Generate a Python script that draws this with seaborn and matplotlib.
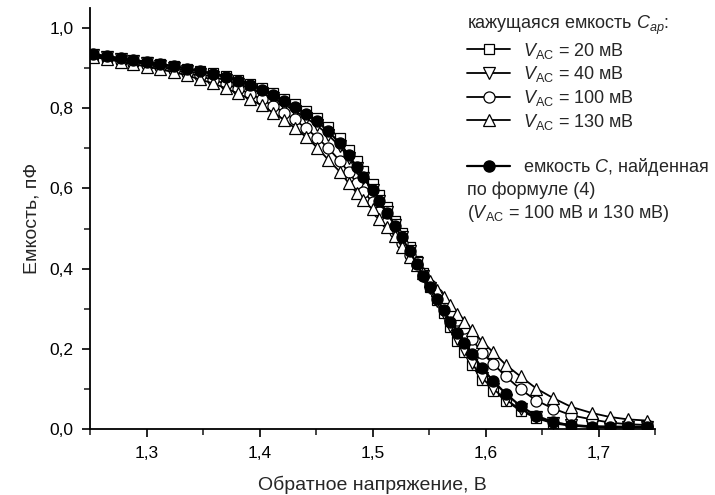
import numpy as np
import pandas as pd
import matplotlib
matplotlib.use("Agg")
import matplotlib.pyplot as plt
import seaborn as sns
from matplotlib.ticker import MultipleLocator, FuncFormatter
from matplotlib.lines import Line2D

sns.set_style("ticks")
plt.rcParams['font.family'] = ['Liberation Sans', 'DejaVu Sans']
plt.rcParams['mathtext.fontset'] = 'custom'
plt.rcParams['mathtext.rm'] = 'Liberation Sans'
plt.rcParams['mathtext.it'] = 'Liberation Sans:italic'

volt = [1.253, 1.265, 1.277, 1.288, 1.300, 1.312, 1.324, 1.336, 1.347, 1.359,
        1.370, 1.381, 1.392, 1.402, 1.412, 1.422, 1.431, 1.441, 1.451, 1.461,
        1.471, 1.479, 1.486, 1.492, 1.500, 1.506, 1.513, 1.520, 1.526, 1.533,
        1.539, 1.545, 1.551, 1.557, 1.563, 1.569, 1.575, 1.581, 1.588, 1.597,
        1.607, 1.618, 1.631, 1.645, 1.660, 1.676, 1.694, 1.710, 1.726, 1.743]

# apparent capacitance C_ap, pF
cap_20 = [.933, .928, .923, .919, .915, .910, .905, .899, .893, .887,
          .880, .871, .861, .850, .839, .824, .810, .793, .775, .752,
          .725, .697, .669, .643, .611, .584, .553, .520, .490, .454,
          .420, .388, .355, .322, .290, .255, .220, .191, .159, .122,
          .096, .070, .046, .027, .014, .008, .005, .004, .004, .004]
cap_40 = [.932, .927, .922, .917, .912, .906, .900, .893, .886, .878,
          .870, .860, .849, .837, .825, .809, .794, .776, .757, .733,
          .705, .677, .650, .626, .595, .569, .540, .508, .479, .445,
          .413, .382, .351, .320, .289, .257, .225, .196, .164, .127,
          .100, .073, .049, .030, .016, .010, .007, .006, .006, .006]
cap_100 = [.931, .925, .919, .914, .909, .902, .896, .888, .880, .871,
           .861, .849, .836, .822, .806, .789, .772, .750, .727, .700,
           .669, .640, .614, .592, .566, .542, .517, .491, .464, .435,
           .410, .385, .360, .336, .312, .291, .271, .252, .224, .190,
           .162, .131, .099, .071, .051, .034, .024, .016, .012, .010]
cap_130 = [.928, .922, .916, .910, .904, .897, .890, .882, .872, .862,
           .850, .837, .822, .807, .789, .771, .751, .729, .702, .671,
           .642, .613, .589, .570, .548, .525, .503, .481, .455, .430,
           .408, .388, .369, .347, .328, .309, .288, .268, .247, .218,
           .191, .160, .131, .101, .077, .055, .040, .030, .024, .021]
# capacitance C from formula (4)
cap_formula = [.935, .930, .925, .920, .916, .910, .905, .898, .892, .885,
               .878, .868, .858, .846, .834, .818, .803, .786, .767, .742,
               .713, .683, .654, .628, .596, .569, .539, .506, .478, .443,
               .412, .382, .354, .325, .297, .268, .240, .214, .187, .152,
               .119, .088, .057, .033, .017, .009, .006, .005, .005, .005]

labels_ac = ['20', '40', '100', '130']
series = [cap_20, cap_40, cap_100, cap_130]
markers = ['s', 'v', 'o', '^']
msizes = [6.5, 8, 8, 8.5]

fig = plt.figure(figsize=(7.15, 4.95), dpi=100)
ax = fig.add_axes([90 / 715, 1 - 429 / 495, 565 / 715, 421 / 495])

handles = []
for lab, vals, mk, ms in zip(labels_ac, series, markers, msizes):
    df = pd.DataFrame({'V': volt, 'C': vals})
    sns.lineplot(data=df, x='V', y='C', ax=ax, color='black', lw=1.3,
                 marker=mk, ms=ms, mfc='white', mec='black', mew=0.9)
    handles.append(Line2D([], [], color='black', lw=1.3, marker=mk, ms=ms,
                          mfc='white', mec='black', mew=0.9))

df = pd.DataFrame({'V': volt, 'C': cap_formula})
sns.lineplot(data=df, x='V', y='C', ax=ax, color='black', lw=1.6,
             marker='o', ms=8, mfc='black', mec='black', mew=0.9)
h_black = Line2D([], [], color='black', lw=1.6, marker='o', ms=8,
                 mfc='black', mec='black')

ax.set_xlim(1.25, 1.75)
ax.set_ylim(0, 1.05)
ax.xaxis.set_major_locator(MultipleLocator(0.1))
ax.xaxis.set_minor_locator(MultipleLocator(0.05))
ax.yaxis.set_major_locator(MultipleLocator(0.2))
ax.yaxis.set_minor_locator(MultipleLocator(0.1))
fmt = FuncFormatter(lambda v, p: f"{v:.1f}".replace('.', ','))
ax.xaxis.set_major_formatter(fmt)
ax.yaxis.set_major_formatter(fmt)
ax.tick_params(which='major', direction='out', length=6, width=1.2,
               labelsize=12.5, colors='black', pad=6)
ax.tick_params(which='minor', direction='out', length=4, width=1.2)
for s in ['top', 'right']:
    ax.spines[s].set_visible(False)
for s in ['left', 'bottom']:
    ax.spines[s].set_linewidth(1.3)
    ax.spines[s].set_color('black')

ax.set_xlabel('Обратное напряжение, В', fontsize=14, labelpad=11)
ax.set_ylabel('Емкость, пФ', fontsize=14, labelpad=6)

blank = Line2D([], [], color='none')
leg_labels = [rf'$V_{{\mathrm{{AC}}}}$ = {v} мВ' for v in labels_ac]
leg = ax.legend(handles + [blank, h_black],
                leg_labels + [' ', r'емкость $C$, найденная'],
                title=r'кажущаяся емкость $C_{ap}$:',
                loc='upper left', bbox_to_anchor=(467 / 715, 1 - 14 / 495),
                bbox_transform=fig.transFigure, frameon=False,
                fontsize=13, title_fontsize=13, handlelength=2.4,
                handletextpad=0.7, labelspacing=0.2, borderpad=0,
                borderaxespad=0)
leg._legend_box.align = 'left'

fig.text(467 / 715, 1 - 190 / 495, 'по формуле (4)', fontsize=13,
         va='center', ha='left')
fig.text(467 / 715, 1 - 213 / 495, r'($V_{\mathrm{AC}}$ = 100 мВ и 130 мВ)',
         fontsize=13, va='center', ha='left')

fig.savefig('out.png', dpi=100)
